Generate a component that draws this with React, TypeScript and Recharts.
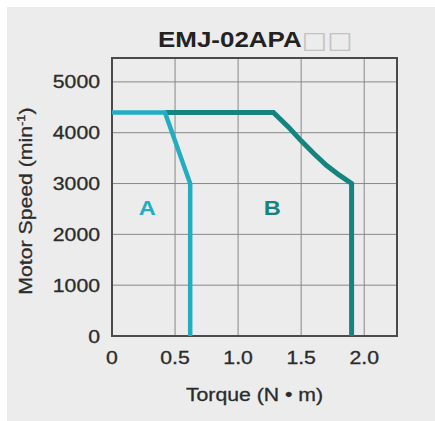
import { LineChart, Line, XAxis, YAxis, CartesianGrid, ReferenceArea, ReferenceDot, Label } from 'recharts';

const FONT = '"Liberation Sans", Arial, sans-serif';
const STRETCH = 1.18;
const INK = '#2b2b2b';

// axis ticks
const torqueTicks = [0, 0.5, 1.0, 1.5, 2.0];
const speedTicks = [0, 1000, 2000, 3000, 4000, 5000];

// curve A (continuous)
const curveATorque = [0, 0.42, 0.62, 0.62];
const curveASpeed = [4400, 4400, 3000, 0];

// curve B (intermittent)
const curveBTorque = [0.42, 1.28, 1.4, 1.5, 1.6, 1.7, 1.8, 1.9, 1.9];
const curveBSpeed = [4400, 4400, 4110, 3840, 3590, 3360, 3170, 3000, 0];

// region labels
const regionNames = ['A', 'B'];
const regionTorque = [0.28, 1.27];
const regionSpeed = [2520, 2520];

const colorA = '#22adc0';
const colorB = '#15847f';
const regionColors = [colorA, colorB];

const dataA = curveATorque.map((t, i) => ({ torque: t, speed: curveASpeed[i] }));
const dataB = curveBTorque.map((t, i) => ({ torque: t, speed: curveBSpeed[i] }));

const XTick = ({ x, y, payload }: any) => (
  <text
    transform={`translate(${x},${y + 13}) scale(${STRETCH},1)`}
    textAnchor="middle"
    fontSize={18}
    fontFamily={FONT}
    fill={INK}
    stroke={INK}
    strokeWidth={0.3}
  >
    {payload.value === 0 ? '0' : payload.value.toFixed(1)}
  </text>
);

const YTick = ({ x, y, payload }: any) => (
  <text
    transform={`translate(${x},${y + 6.5}) scale(${STRETCH},1)`}
    textAnchor="end"
    fontSize={18}
    fontFamily={FONT}
    fill={INK}
    stroke={INK}
    strokeWidth={0.3}
  >
    {payload.value}
  </text>
);

const RegionLabel = (name: string, color: string) => ({ viewBox }: any) => (
  <text
    transform={`translate(${viewBox.x},${viewBox.y + 7.5}) scale(${STRETCH},1)`}
    textAnchor="middle"
    fontSize={20}
    fontWeight="bold"
    fontFamily={FONT}
    fill={color}
  >
    {name}
  </text>
);

export default function App() {
  return (
    <div style={{ position: 'absolute', left: 0, top: 0, width: 435, height: 421, background: '#fff' }}>
      <div style={{ position: 'absolute', left: 7, top: 7, width: 428, height: 414, background: '#ececec' }} />

      {/* title */}
      <svg width={435} height={60} style={{ position: 'absolute', left: 0, top: 0 }}>
        <text
          transform={`translate(158,47) scale(${STRETCH},1)`}
          textAnchor="start"
          fontSize={22}
          fontWeight="bold"
          fontFamily={FONT}
          fill="#222"
        >
          EMJ-02APA<tspan fill="#c2c2c2" fontWeight="normal" fontFamily="DejaVu Sans" fontSize={23} dy={1}>□□</tspan>
        </text>
      </svg>

      <div style={{ position: 'absolute', left: 0, top: 0 }}>
        <LineChart width={435} height={421} margin={{ top: 58, right: 38, bottom: 15, left: 0 }}>
          <CartesianGrid stroke="#888" strokeWidth={1} />
          <XAxis
            type="number"
            dataKey="torque"
            domain={[0, 2.26]}
            ticks={torqueTicks}
            axisLine={false}
            tickLine={false}
            tickSize={0}
            tickMargin={15}
            height={70}
            tick={<XTick />}
            allowDataOverflow
          >
            <Label
              content={({ viewBox }: any) => (
                <text
                  transform={`translate(${viewBox.x + viewBox.width / 2},${viewBox.y + 65}) scale(${STRETCH},1)`}
                  textAnchor="middle"
                  fontSize={18}
                  fontFamily={FONT}
                  fill={INK}
                  stroke={INK}
                  strokeWidth={0.3}
                >
                  Torque (N • m)
                </text>
              )}
            />
          </XAxis>
          <YAxis
            type="number"
            dataKey="speed"
            domain={[0, 5470]}
            ticks={speedTicks}
            axisLine={false}
            tickLine={false}
            tickSize={0}
            tickMargin={12}
            width={112}
            tick={<YTick />}
            allowDataOverflow
          >
            <Label
              content={({ viewBox }: any) => (
                <text
                  transform={`translate(${viewBox.x + 32},${viewBox.y + viewBox.height / 2 + 4}) rotate(-90) scale(${STRETCH},1)`}
                  textAnchor="middle"
                  fontSize={18}
                  fontFamily={FONT}
                  fill={INK}
                  stroke={INK}
                  strokeWidth={0.3}
                >
                  Motor  Speed (min<tspan fontSize={11} dy={-7}>-1</tspan><tspan dy={7}>)</tspan>
                </text>
              )}
            />
          </YAxis>
          <ReferenceArea
            x1={0}
            x2={2.26}
            y1={0}
            y2={5470}
            fill="none"
            stroke="#4a4a4a"
            strokeWidth={2}
            ifOverflow="visible"
          />
          <Line
            data={dataB}
            dataKey="speed"
            type="linear"
            stroke={colorB}
            strokeWidth={5}
            dot={false}
            isAnimationActive={false}
          />
          <Line
            data={dataA}
            dataKey="speed"
            type="linear"
            stroke={colorA}
            strokeWidth={4.5}
            dot={false}
            isAnimationActive={false}
          />
          {regionNames.map((name, i) => (
            <ReferenceDot
              key={name}
              x={regionTorque[i]}
              y={regionSpeed[i]}
              r={0}
              fill="none"
              stroke="none"
              label={RegionLabel(name, regionColors[i])}
            />
          ))}
        </LineChart>
      </div>
    </div>
  );
}
